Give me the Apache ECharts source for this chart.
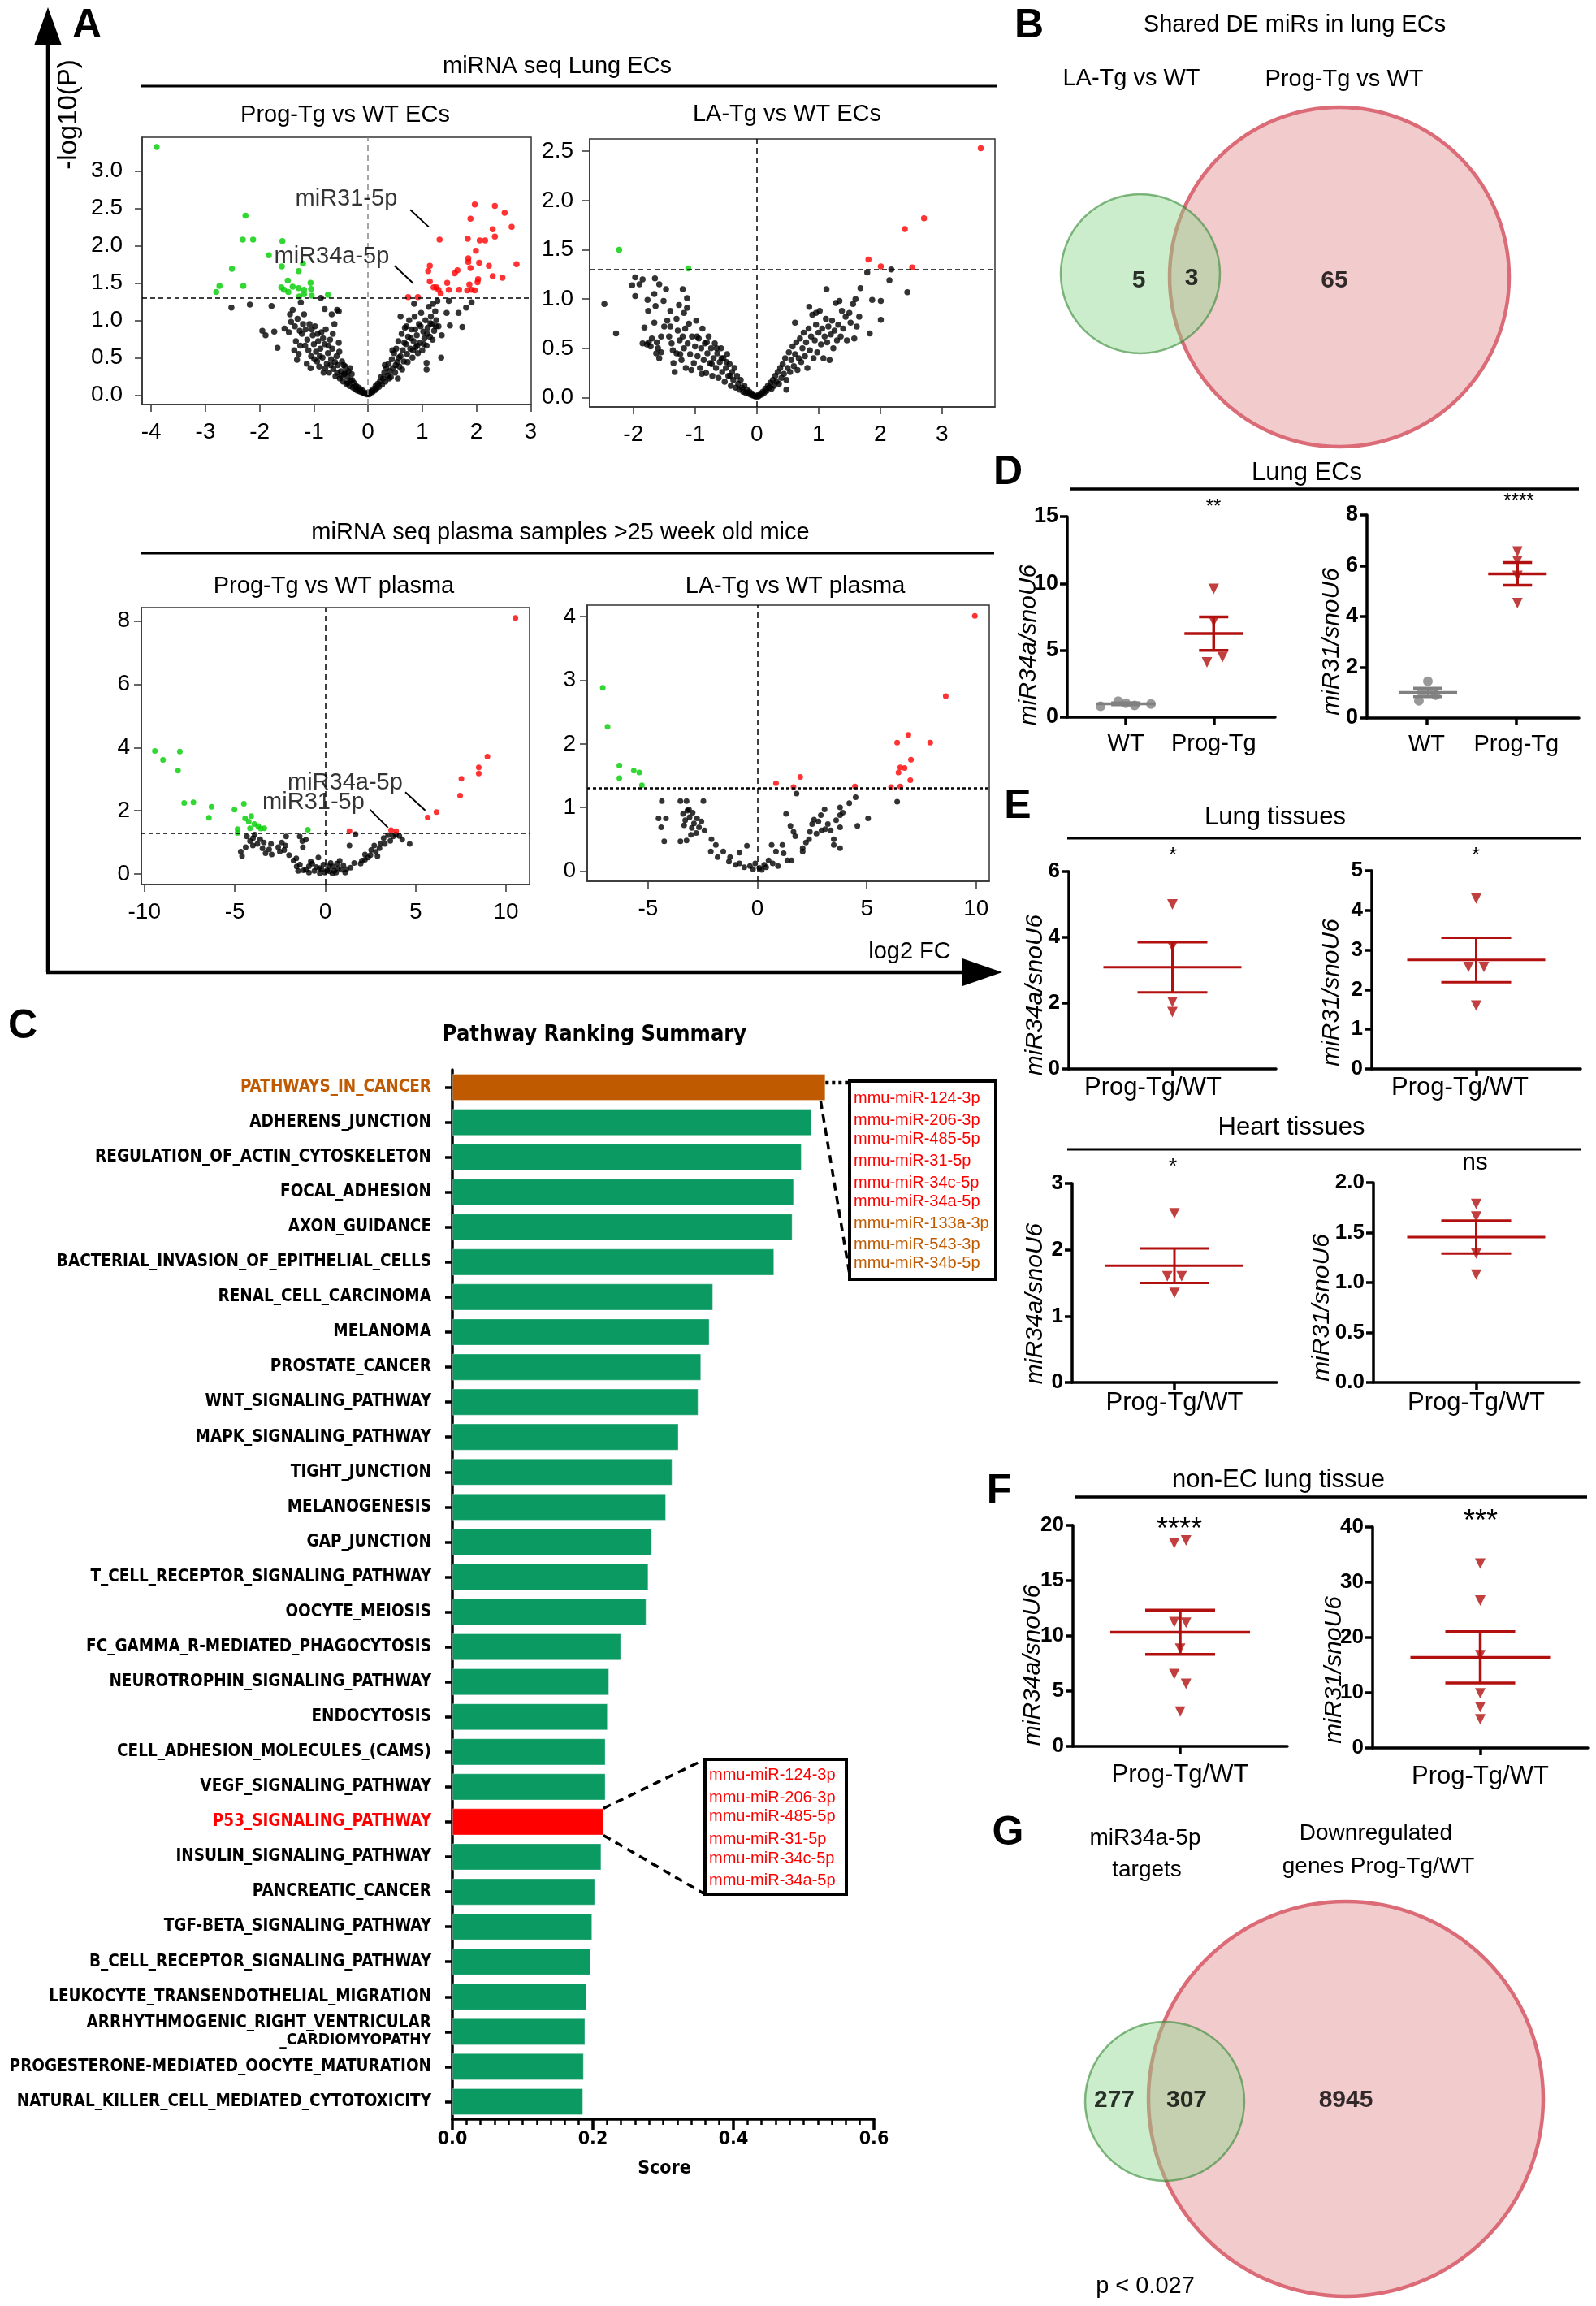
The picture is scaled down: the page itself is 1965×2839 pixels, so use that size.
<!DOCTYPE html>
<html><head><meta charset="utf-8">
<script src="https://cdn.jsdelivr.net/npm/echarts@6/dist/echarts.min.js"></script>
<style>html,body{margin:0;padding:0;background:#fff}#c{width:1965px;height:2839px}</style>
</head><body><div id="c"></div>
<script>
// ================= DATA =================
const pThreshold = 1.3;
// A1: Prog-Tg vs WT ECs  [log2FC, -log10P]
const ecProgGreen = [[-3.90,3.32],[-2.26,2.40],[-2.31,2.08],[-2.12,2.08],[-1.58,2.06],[-1.83,1.87],[-2.51,1.69],[-1.59,1.72],[-1.20,1.76],[-1.28,1.66],[-1.48,1.53],[-2.74,1.46],[-2.30,1.46],[-2.80,1.38],[-1.60,1.44],[-1.55,1.41],[-1.47,1.38],[-1.39,1.45],[-1.28,1.43],[-1.18,1.41],[-1.06,1.50],[-1.05,1.42],[-1.18,1.35],[-1.27,1.32],[-1.04,1.33],[-0.74,1.34]];
const ecProgRed = [[1.97,2.55],[2.34,2.53],[2.52,2.44],[1.89,2.36],[2.65,2.25],[2.30,2.22],[2.34,2.12],[1.32,2.08],[1.84,2.09],[2.06,2.07],[2.16,2.07],[1.99,1.93],[1.85,1.83],[1.85,1.78],[2.05,1.77],[2.74,1.75],[2.23,1.73],[1.14,1.73],[1.89,1.70],[1.11,1.66],[1.65,1.67],[1.60,1.63],[2.30,1.59],[2.48,1.57],[2.03,1.55],[1.14,1.52],[1.46,1.50],[2.02,1.51],[1.87,1.48],[1.21,1.44],[1.26,1.44],[1.30,1.41],[1.49,1.41],[1.68,1.41],[1.91,1.41],[1.83,1.40],[1.97,1.40],[1.34,1.36],[0.74,1.31],[0.92,1.31]];
const ecProgBlack = [[-2.52,1.17],[-2.18,1.21],[-1.78,1.19],[-1.95,0.86],[-1.89,0.80],[-1.73,0.85],[-1.67,0.63],[-1.54,0.89],[-1.46,0.84],[-1.44,1.08],[-1.39,1.14],[-1.24,1.24],[-0.87,1.30],[-0.80,1.15],[-0.67,1.08],[-0.57,1.14],[-0.54,1.12],
[-1.42,0.98],[-1.35,0.92],[-1.30,1.02],[-1.33,0.72],[-1.28,0.55],[-1.25,0.66],[-1.22,0.82],[-1.20,0.95],[-1.36,0.60],[-1.31,0.47],
[-1.18,1.08],[-1.15,0.88],[-1.12,0.74],[-1.10,0.60],[-1.08,0.95],[-1.05,0.52],[-1.02,0.80],[-1.00,0.68],[-1.13,0.42],[-1.06,0.36],
[-0.98,0.92],[-0.96,0.58],[-0.94,0.45],[-0.92,0.72],[-0.90,0.38],[-0.88,0.62],[-0.86,0.84],[-0.84,0.50],[-0.82,0.30],[-0.80,0.68],
[-0.78,0.88],[-0.76,0.42],[-0.74,0.56],[-0.72,0.30],[-0.70,0.74],[-0.68,0.48],[-0.66,0.62],[-0.64,0.35],[-0.62,0.95],[-0.60,0.25],
[-0.58,0.52],[-0.56,0.40],[-0.54,0.70],[-0.52,0.22],[-0.50,0.32],[-0.48,0.45],[-0.46,0.18],[-0.44,0.28],[-0.42,0.38],[-0.40,0.15],
[-0.38,0.24],[-0.36,0.32],[-0.34,0.12],[-0.32,0.20],[-0.30,0.28],[-0.28,0.10],[-0.26,0.16],[-0.24,0.08],[-0.22,0.12],[-0.20,0.06],
[-0.18,0.10],[-0.16,0.05],[-0.14,0.08],[-0.12,0.04],[-0.10,0.06],[-0.08,0.03],[-0.06,0.02],[-0.04,0.03],[-0.02,0.01],
[-1.26,0.86],[-1.16,0.66],[-1.04,0.88],[-0.99,0.48],[-0.93,0.82],[-0.89,0.52],[-0.83,0.76],[-0.79,0.36],[-0.73,0.66],[-0.69,0.40],[-0.65,0.82],[-0.61,0.44],[-0.57,0.30],[-0.53,0.58],[-0.49,0.26],[-0.45,0.40],[-0.41,0.30],[-0.37,0.16],[-0.33,0.36],[-0.29,0.20],
[0.02,0.01],[0.04,0.03],[0.06,0.05],[0.08,0.04],[0.10,0.08],[0.12,0.06],[0.14,0.12],[0.16,0.09],[0.18,0.15],[0.20,0.11],
[0.22,0.18],[0.24,0.24],[0.26,0.14],[0.28,0.22],[0.30,0.30],[0.32,0.18],[0.34,0.36],[0.36,0.26],[0.38,0.42],[0.40,0.32],
[0.42,0.24],[0.44,0.48],[0.46,0.36],[0.48,0.56],[0.50,0.30],[0.52,0.62],[0.54,0.44],[0.56,0.72],[0.58,0.38],[0.60,0.52],
[0.62,0.82],[0.64,0.60],[0.66,0.45],[0.68,0.90],[0.70,0.68],[0.72,0.55],[0.74,0.78],[0.76,1.00],[0.78,0.62],[0.80,0.88],
[0.82,0.50],[0.84,0.72],[0.86,1.05],[0.88,0.64],[0.90,0.80],[0.92,0.56],[0.94,0.95],[0.96,0.70],[0.98,1.10],[1.00,0.60],
[1.02,0.85],[1.04,0.76],[1.06,1.00],[1.08,0.66],[1.10,0.90],[1.12,1.18],[1.14,0.78],[1.16,1.05],[1.18,0.95],[1.20,1.22],
[1.22,0.86],[1.24,1.12],[1.26,1.00],[1.28,1.26],[1.30,0.92],
[0.31,0.40],[0.39,0.22],[0.45,0.60],[0.51,0.40],[0.57,0.50],[0.63,0.34],[0.67,0.70],[0.73,0.44],[0.79,0.76],[0.83,0.60],[0.87,0.88],[0.91,0.66],[0.97,0.92],[1.03,0.68],[1.09,0.82],[1.15,0.96],[1.19,0.74],[1.25,0.92],[0.55,0.22],[0.71,0.92],
[1.35,0.50],[1.08,0.43],[1.08,0.34],[1.51,0.93],[1.45,1.10],[1.74,0.91],[1.67,1.10],[1.81,1.17],[1.91,1.24],[1.49,1.26],[1.36,0.80],[0.85,1.22],[0.60,1.05]];
// A2: LA-Tg vs WT ECs
const ecLaGreen = [[-2.23,1.50],[-1.11,1.31]];
const ecLaRed = [[3.63,2.53],[2.71,1.82],[2.40,1.71],[1.81,1.40],[2.01,1.33],[2.52,1.32]];
const ecLaBlack = [[-2.47,0.95],[-2.28,0.65],[-1.97,1.22],[-2.02,1.14],[-1.97,1.03],[-1.85,1.20],[-1.90,1.15],[-1.65,1.21],[-1.58,1.15],[-1.47,1.10],[-1.66,1.05],[-1.77,0.99],[-1.76,0.88],[-1.82,0.71],[-1.78,0.54],[-1.72,0.52],[-1.60,0.50],[-1.63,0.45],[-1.51,0.98],[-1.64,0.93],[-1.20,1.10],[-1.13,1.01],[-1.26,0.94],[-1.13,0.91],
[-1.45,0.78],[-1.42,0.62],[-1.40,0.72],[-1.38,0.55],[-1.35,0.35],[-1.33,0.26],[-1.30,0.45],[-1.28,0.68],[-1.25,0.58],[-1.22,0.38],
[-1.20,0.62],[-1.18,0.50],[-1.15,0.30],[-1.12,0.55],[-1.10,0.75],[-1.08,0.44],[-1.05,0.62],[-1.02,0.35],[-1.00,0.52],[-0.98,0.78],
[-0.96,0.42],[-0.94,0.60],[-0.92,0.30],[-0.90,0.50],[-0.88,0.70],[-0.86,0.38],[-0.84,0.55],[-0.82,0.25],[-0.80,0.45],[-0.78,0.62],
[-0.76,0.35],[-0.74,0.50],[-0.72,0.22],[-0.70,0.40],[-0.68,0.55],[-0.66,0.30],[-0.64,0.45],[-0.62,0.20],[-0.60,0.36],[-0.58,0.50],
[-0.56,0.26],[-0.54,0.40],[-0.52,0.16],[-0.50,0.30],[-0.48,0.44],[-0.46,0.22],[-0.44,0.34],[-0.42,0.12],[-0.40,0.26],[-0.38,0.18],
[-0.36,0.30],[-0.34,0.10],[-0.32,0.22],[-0.30,0.14],[-0.28,0.08],[-0.26,0.18],[-0.24,0.10],[-0.22,0.06],[-0.20,0.12],[-0.18,0.05],
[-0.16,0.08],[-0.14,0.04],[-0.12,0.06],[-0.10,0.03],[-0.08,0.04],[-0.06,0.02],[-0.04,0.02],[-0.02,0.01],
[-1.55,0.46],[-1.62,0.56],[-1.58,0.40],[-1.70,0.60],[-1.50,0.72],[-1.66,0.76],[-1.40,0.88],[-1.30,0.80],[-1.18,0.86],[-1.55,0.62],[-1.75,0.56],[-1.85,0.55],
[-1.36,0.48],[-1.24,0.44],[-1.16,0.70],[-1.06,0.28],[-0.97,0.62],[-0.89,0.24],[-0.81,0.56],[-0.73,0.34],[-0.65,0.50],[-0.57,0.40],[-0.49,0.36],[-0.43,0.22],
[1.79,1.27],[2.18,1.30],[2.15,1.19],[2.44,1.07],[1.68,1.11],[1.87,0.99],[2.01,0.98],[2.01,0.79],[1.83,0.65],[1.13,1.10],
[0.02,0.01],[0.04,0.02],[0.06,0.04],[0.08,0.03],[0.10,0.06],[0.12,0.05],[0.14,0.09],[0.16,0.07],[0.18,0.12],[0.20,0.10],
[0.22,0.15],[0.24,0.09],[0.26,0.18],[0.28,0.12],[0.30,0.22],[0.32,0.16],[0.34,0.26],[0.36,0.14],[0.38,0.30],[0.40,0.20],
[0.42,0.34],[0.44,0.24],[0.46,0.40],[0.48,0.18],[0.50,0.30],[0.52,0.46],[0.54,0.26],[0.56,0.38],[0.58,0.52],[0.60,0.32],
[0.62,0.44],[0.64,0.56],[0.66,0.28],[0.68,0.40],[0.70,0.60],[0.72,0.36],[0.74,0.50],[0.76,0.66],[0.78,0.42],[0.80,0.56],
[0.82,0.30],[0.84,0.70],[0.86,0.48],[0.88,0.62],[0.90,0.84],[0.92,0.40],[0.94,0.58],[0.96,0.74],[0.98,0.46],[1.00,0.66],
[1.02,0.88],[1.04,0.54],[1.06,0.70],[1.08,0.40],[1.10,0.62],[1.12,0.80],[1.14,0.56],[1.16,0.72],[1.18,0.38],[1.20,0.64],
[1.22,0.78],[1.24,0.50],[1.26,0.68],[1.28,0.96],[1.30,0.58],[1.32,0.74],[1.34,0.98],[1.36,0.62],[1.38,0.88],[1.40,0.70],
[1.44,0.82],[1.46,0.58],[1.50,0.86],[1.52,0.76],[1.56,0.95],[1.58,0.60],[1.60,1.00],[1.62,0.72],[1.66,0.82],[0.62,0.76],[0.85,0.92],[0.96,0.86],[0.48,0.08]];
// A3: Prog-Tg vs WT plasma
const plProgGreen = [[-9.42,3.89],[-8.04,3.87],[-8.97,3.61],[-8.14,3.27],[-7.80,2.25],[-7.29,2.27],[-6.29,2.13],[-6.43,1.78],[-5.02,2.04],[-4.50,2.22],[-4.43,1.76],[-4.09,1.83],[-4.23,1.66],[-3.92,1.58],[-3.71,1.52],[-3.37,1.45],[-3.57,1.44],[-4.16,1.45],[-4.85,1.42],[-4.85,1.30],[-0.96,1.40]];
const plProgRed = [[10.52,8.09],[8.97,3.71],[8.49,3.37],[8.49,3.18],[7.53,3.01],[7.46,2.48],[6.15,1.96],[5.67,1.79],[3.64,1.39],[3.92,1.36],[1.34,1.36]];
const plProgBlack = [[-4.67,0.71],[-4.60,0.57],[-4.33,1.19],[-4.16,1.04],[-3.99,1.14],[-3.75,0.95],[-3.47,0.81],[-3.30,0.66],[-2.96,0.62],[-2.51,0.71],[-2.27,0.76],[-2.16,1.19],[-1.41,1.19],[-1.27,1.04],[-1.07,1.09],[-1.24,0.85],[-1.75,0.43],[-1.58,0.24],[-1.07,0.14],[-0.72,0.33],[-0.38,0.52],[-0.31,0.19],[-0.03,0.05],[0.24,0.09],[0.41,0.24],[0.65,0.33],[0.89,0.14],[1.17,0.16],[1.34,0.90],[1.68,1.26],[2.03,0.43],[2.20,0.62],[2.54,0.76],[2.71,0.90],[3.06,0.95],[3.23,1.14],[3.47,1.23],[3.75,1.19],[4.26,1.09],[4.67,0.95],[2.89,0.57],[2.37,0.52],[1.96,0.33],
[-1.2,0.12],[-0.9,0.25],[-0.6,0.10],[-0.5,0.22],[-0.2,0.15],[-0.1,0.30],[0.1,0.12],[0.3,0.35],[0.5,0.10],[0.7,0.18],[0.8,0.42],[1.0,0.28],[1.4,0.2],[-1.4,0.3],[-0.8,0.4],[0.2,0.25],[0.6,0.05],[-0.3,0.02],[1.1,0.05],[-1.6,0.5],[-2.0,0.6],[-2.6,0.85],[-3.0,0.95],[-3.6,1.1],[-4.0,0.9],[-4.4,0.85],[-3.9,1.25],[-3.4,1.0],[-3.1,0.78],[2.2,0.45],[2.5,0.6],[3.3,0.95],[3.6,1.05],[3.9,1.25],[4.1,1.2],[2.8,0.7],[3.0,0.82],[-0.9,0.05],[0.4,0.02],[-1.5,0.1],[1.6,0.35],[-2.2,0.9],[-2.4,1.0]];
// A4: LA-Tg vs WT plasma
const plLaGreen = [[-7.07,2.88],[-6.85,2.27],[-6.31,1.66],[-6.31,1.46],[-5.65,1.58],[-5.40,1.55],[-5.28,1.35]];
const plLaRed = [[9.94,4.01],[8.61,2.75],[6.90,2.14],[6.39,2.02],[7.90,2.02],[7.02,1.75],[6.53,1.63],[6.73,1.62],[6.45,1.55],[6.99,1.43],[1.96,1.48],[0.85,1.38],[1.65,1.32],[4.46,1.33],[6.11,1.32],[6.53,1.33]];
const plLaBlack = [[6.39,1.09],[1.79,1.22],[-4.37,1.10],[-4.52,0.83],[-4.18,0.83],[-4.40,0.69],[-4.26,0.47],[-3.52,1.10],[-3.24,1.10],[-2.47,1.10],[-3.13,0.97],[-2.96,0.92],[-2.76,0.83],[-2.67,0.69],[-2.56,0.78],[-2.42,0.64],[-2.10,0.50],[-3.52,0.47],[-3.24,0.48],[-3.04,0.57],[-1.90,0.41],[-1.56,0.31],[-2.13,0.31],[-1.82,0.22],[-1.25,0.22],[-0.82,0.29],[-0.48,0.40],[-0.82,0.12],[-0.34,0.08],[-0.20,0.03],[0.09,0.05],[0.31,0.10],[0.51,0.17],[0.65,0.41],[0.85,0.31],[1.14,0.41],[1.31,0.90],[1.51,0.71],[1.65,0.62],[1.73,0.55],[0.94,0.08],[1.56,0.17],[2.07,0.31],[2.22,0.45],[2.50,0.74],[2.59,0.81],[2.70,0.59],[2.93,0.64],[3.07,0.97],[2.79,0.78],[3.22,0.74],[3.35,0.64],[3.49,0.50],[3.78,1.00],[3.78,0.88],[3.78,0.69],[3.78,0.36],[4.20,1.07],[4.49,1.16],[4.57,0.71],[5.06,0.83],[3.49,0.41],[2.36,0.50],[2.07,0.36],[1.37,0.17],
[-3.40,0.90],[-3.30,0.80],[-3.10,0.85],[-2.90,0.75],[-3.00,0.68],[-2.80,0.60],[-3.35,0.72],[-3.20,0.95],[-1.30,0.15],[-1.00,0.10],[-0.60,0.06],[-0.10,0.12],[0.20,0.02],[0.40,0.06],[0.70,0.12],[1.20,0.28],[2.90,0.88],[3.10,0.66],[3.60,0.80],[2.40,0.62],[3.90,0.92]];

// C: pathway ranking
const pathways = ['PATHWAYS_IN_CANCER','ADHERENS_JUNCTION','REGULATION_OF_ACTIN_CYTOSKELETON','FOCAL_ADHESION','AXON_GUIDANCE','BACTERIAL_INVASION_OF_EPITHELIAL_CELLS','RENAL_CELL_CARCINOMA','MELANOMA','PROSTATE_CANCER','WNT_SIGNALING_PATHWAY','MAPK_SIGNALING_PATHWAY','TIGHT_JUNCTION','MELANOGENESIS','GAP_JUNCTION','T_CELL_RECEPTOR_SIGNALING_PATHWAY','OOCYTE_MEIOSIS','FC_GAMMA_R-MEDIATED_PHAGOCYTOSIS','NEUROTROPHIN_SIGNALING_PATHWAY','ENDOCYTOSIS','CELL_ADHESION_MOLECULES_(CAMS)','VEGF_SIGNALING_PATHWAY','P53_SIGNALING_PATHWAY','INSULIN_SIGNALING_PATHWAY','PANCREATIC_CANCER','TGF-BETA_SIGNALING_PATHWAY','B_CELL_RECEPTOR_SIGNALING_PATHWAY','LEUKOCYTE_TRANSENDOTHELIAL_MIGRATION','ARRHYTHMOGENIC_RIGHT_VENTRICULAR\n_CARDIOMYOPATHY','PROGESTERONE-MEDIATED_OOCYTE_MATURATION','NATURAL_KILLER_CELL_MEDIATED_CYTOTOXICITY'];
const pathwayScores = [0.531,0.511,0.497,0.486,0.484,0.458,0.371,0.366,0.354,0.350,0.322,0.313,0.304,0.284,0.279,0.276,0.240,0.223,0.221,0.218,0.218,0.215,0.212,0.203,0.199,0.197,0.191,0.189,0.187,0.186];
const highlightCancer = 'PATHWAYS_IN_CANCER';
const highlightP53 = 'P53_SIGNALING_PATHWAY';
const cancerMirsRed = ['mmu-miR-124-3p','mmu-miR-206-3p','mmu-miR-485-5p','mmu-miR-31-5p','mmu-miR-34c-5p','mmu-miR-34a-5p'];
const cancerMirsOrange = ['mmu-miR-133a-3p','mmu-miR-543-3p','mmu-miR-34b-5p'];
const p53Mirs = ['mmu-miR-124-3p','mmu-miR-206-3p','mmu-miR-485-5p','mmu-miR-31-5p','mmu-miR-34c-5p','mmu-miR-34a-5p'];

// B & G venn counts
const vennBSets = ['LA-Tg vs WT','Prog-Tg vs WT'];
const vennBCounts = [5, 3, 65];
const vennGSets = ['miR34a-5p\ntargets','Downregulated\ngenes Prog-Tg/WT'];
const vennGCounts = [277, 307, 8945];
const vennGPvalue = 'p < 0.027';

// D: Lung ECs  [x position, value]
const dCats = ['WT','Prog-Tg'];
const dCatPos = [1, 2.5];
const dMiR34aWT = [[0.57,0.82],[0.87,1.20],[1.00,1.05],[1.15,0.88],[1.43,0.98]];
const dMiR34aProg = [[2.5,9.6],[2.5,7.16],[2.385,4.1],[2.65,4.5]];
const dMiR34aStats = [[1,1.0,0.08],[2.5,6.25,1.25]]; // x, mean, SEM
const dMiR31WT = [[1.02,1.45],[0.87,0.68],[1.15,0.90],[0.92,1.00],[1.12,1.02]];
const dMiR31Prog = [[2.52,6.56],[2.52,6.19],[2.52,5.6],[2.52,4.53]];
const dMiR31Stats = [[1.02,1.01,0.17],[2.52,5.68,0.45]];
// E/F: single group Prog-Tg/WT
const ratioCat = ['Prog-Tg/WT'];
const ratioPos = [1];
const eLungMiR34a = [[1,5.0],[1,3.72],[1,2.04],[1,1.73]];
const eLungMiR34aStats = [[1,3.09,0.76]];
const eLungMiR31 = [[1,4.3],[0.926,2.57],[1.074,2.57],[1,1.6]];
const eLungMiR31Stats = [[1,2.75,0.56]];
const eHeartMiR34a = [[1,2.55],[0.93,1.6],[1.07,1.6],[1,1.35]];
const eHeartMiR34aStats = [[1,1.76,0.26]];
const eHeartMiR31 = [[1,1.787],[1,1.66],[1,1.29],[1,1.08]];
const eHeartMiR31Stats = [[1,1.455,0.165]];
const fMiR34a = [[0.945,18.39],[1.055,18.64],[0.945,11.25],[1.055,11.2],[1,8.85],[0.945,6.54],[1.055,5.67],[1,3.15]];
const fMiR34aStats = [[1,10.33,2.01]];
const fMiR31 = [[1,33.4],[1,26.7],[1,16.8],[1,9.9],[1,7.4],[1,5.2]];
const fMiR31Stats = [[1,16.4,4.65]];
const sig = ['**','****','*','*','*','ns','****','***'];

// ================= STYLE / LAYOUT =================
const FONT = '"Liberation Sans", Arial, Helvetica, sans-serif';
const NARROW = '"Liberation Sans Narrow", "Arial Narrow", "DejaVu Sans Condensed", "Liberation Sans", sans-serif';
const GREEN = '#0A9A62', ORANGE = '#C05A00', RED = '#FF0000', DARKRED = '#B2100F', GRAY = '#808080';

const grids = [], xAxes = [], yAxes = [], series = [];

function addVolcano(c) {
  const gi = grids.length;
  grids.push({left:c.box[0], top:c.box[1], width:c.box[2], height:c.box[3], show:true, borderColor:'#333', borderWidth:1.5, containLabel:false, outerBoundsMode:'none'});
  xAxes.push({type:'value', gridIndex:gi, min:c.xr[0], max:c.xr[1],
    axisLine:{show:true, onZero:false, lineStyle:{color:'#333', width:1.5}},
    axisTick:{show:true, length:9, customValues:c.xt, lineStyle:{color:'#333', width:1.5}},
    axisLabel:{show:true, customValues:c.xt, margin:c.xm, fontSize:c.fs, fontFamily:FONT, color:'#000', formatter:v=>String(v)},
    splitLine:{show:false}});
  yAxes.push({type:'value', gridIndex:gi, min:c.yr[0], max:c.yr[1],
    axisLine:{show:true, onZero:false, lineStyle:{color:'#333', width:1.5}},
    axisTick:{show:true, length:9, customValues:c.yt, lineStyle:{color:'#333', width:1.5}},
    axisLabel:{show:true, customValues:c.yt, margin:c.ym, fontSize:c.fs, fontFamily:FONT, color:'#000', formatter:c.yf},
    splitLine:{show:false}});
  series.push({type:'scatter', xAxisIndex:gi, yAxisIndex:gi, data:c.black, symbolSize:c.ss, itemStyle:{color:'#000'}, silent:true, z:2,
    markLine:{silent:true, symbol:'none', label:{show:false}, animation:false,
      data:[{yAxis:pThreshold, lineStyle:{type:c.hd, color:'#000', width:c.hw}},
            {xAxis:0, lineStyle:{type:[7,5], color:c.vc, width:1.5}}]}});
  series.push({type:'scatter', xAxisIndex:gi, yAxisIndex:gi, data:c.green, symbolSize:c.ss, itemStyle:{color:'#00CD00'}, silent:true, z:3});
  series.push({type:'scatter', xAxisIndex:gi, yAxisIndex:gi, data:c.red, symbolSize:c.ss, itemStyle:{color:'#FF0000'}, silent:true, z:3});
  (c.ann||[]).forEach(a => {
    series.push({type:'scatter', xAxisIndex:gi, yAxisIndex:gi, data:[a.pos], symbolSize:0, silent:true, clip:false, z:6,
      label:{show:true, position:'inside', formatter:a.text, fontSize:29, fontFamily:FONT, color:'#000'},
      markLine:{silent:true, symbol:['none','arrow'], symbolSize:[0,11], label:{show:false}, animation:false,
        lineStyle:{type:'solid', color:'#000', width:2},
        data:[[{coord:a.from},{coord:a.to}]]}});
  });
  return gi;
}

function addDot(c) {
  const gi = grids.length;
  grids.push({left:c.box[0], top:c.box[1], width:c.box[2], height:c.box[3], show:false, containLabel:false, outerBoundsMode:'none'});
  xAxes.push({type:'value', gridIndex:gi, min:0, max:c.xmax,
    axisLine:{show:true, onZero:false, lineStyle:{color:'#000', width:3.5}},
    axisTick:{show:true, length:9, customValues:c.xt, lineStyle:{color:'#000', width:3.5}},
    axisLabel:{show:true, customValues:c.xt, margin:c.xm, padding:c.pad||0, fontSize:c.xfs, fontFamily:FONT, color:'#000', formatter:v=>c.cats[c.xt.indexOf(v)]},
    splitLine:{show:false}});
  yAxes.push({type:'value', gridIndex:gi, min:0, max:c.ymax, interval:c.yint,
    axisLine:{show:true, onZero:false, lineStyle:{color:'#000', width:3.5}},
    axisTick:{show:true, length:9, lineStyle:{color:'#000', width:3.5}},
    axisLabel:{show:true, margin:11, fontSize:c.yfs||26, fontWeight:'bold', fontFamily:FONT, color:'#000', formatter:c.yf||(v=>String(v))},
    splitLine:{show:false}});
  c.groups.forEach(g => {
    series.push({type:'scatter', xAxisIndex:gi, yAxisIndex:gi, data:g.data, symbol:g.symbol, symbolRotate:g.rot||0, symbolSize:g.size, itemStyle:{color:g.color}, silent:true, z:3, clip:false});
  });
  c.stats.forEach(s => {
    series.push({type:'custom', xAxisIndex:gi, yAxisIndex:gi, data:s.data, silent:true, z:5, clip:false,
      renderItem:(params, api) => {
        const x = api.value(0), m = api.value(1), e = api.value(2);
        const pm = api.coord([x,m]), pt = api.coord([x,m+e]), pb = api.coord([x,m-e]);
        const st = {stroke:s.color, lineWidth:c.lw};
        return {type:'group', children:[
          {type:'line', shape:{x1:pm[0]-c.hm, y1:pm[1], x2:pm[0]+c.hm, y2:pm[1]}, style:st},
          {type:'line', shape:{x1:pt[0], y1:pt[1], x2:pb[0], y2:pb[1]}, style:st},
          {type:'line', shape:{x1:pt[0]-c.hc, y1:pt[1], x2:pt[0]+c.hc, y2:pt[1]}, style:st},
          {type:'line', shape:{x1:pb[0]-c.hc, y1:pb[1], x2:pb[0]+c.hc, y2:pb[1]}, style:st}]};
      }});
  });
  return gi;
}

// ---- Panel A volcanoes ----
const f1 = v => v.toFixed(1);
addVolcano({box:[175,169,479,329], xr:[-4.167,3.01], yr:[-0.127,3.45], xt:[-4,-3,-2,-1,0,1,2,3], yt:[0,0.5,1,1.5,2,2.5,3], yf:f1, xm:20, ym:24, fs:28,
  black:ecProgBlack, green:ecProgGreen, red:ecProgRed, ss:7.5, vc:'#888', hd:[6,4], hw:1.5,
  ann:[{text:'miR31-5p', pos:[-0.40,2.62], from:[0.78,2.48], to:[1.12,2.25]},
       {text:'miR34a-5p', pos:[-0.67,1.85], from:[0.49,1.73], to:[0.84,1.49]}]});
addVolcano({box:[726,171,499,330], xr:[-2.708,3.86], yr:[-0.095,2.625], xt:[-2,-1,0,1,2,3], yt:[0,0.5,1,1.5,2,2.5], yf:f1, xm:20, ym:20, fs:28,
  black:ecLaBlack, green:ecLaGreen, red:ecLaRed, ss:7.5, vc:'#000', hd:[6,4], hw:1.5});
addVolcano({box:[174,748,478,341], xr:[-10.17,11.3], yr:[-0.33,8.42], xt:[-10,-5,0,5,10], yt:[0,2,4,6,8], yf:v=>String(v), xm:20, ym:14, fs:28,
  black:plProgBlack, green:plProgGreen, red:plProgRed, ss:7, vc:'#000', hd:[5,4], hw:1.5,
  ann:[{text:'miR34a-5p', pos:[1.1,2.89], from:[4.43,2.59], to:[5.53,2.01]},
       {text:'miR31-5p', pos:[-0.65,2.25], from:[2.47,2.04], to:[3.47,1.47]}]});
addVolcano({box:[723,745,495,340], xr:[-7.78,10.6], yr:[-0.16,4.18], xt:[-5,0,5,10], yt:[0,1,2,3,4], yf:v=>String(v), xm:20, ym:14, fs:28,
  black:plLaBlack, green:plLaGreen, red:plLaRed, ss:7, vc:'#000', hd:[4,3], hw:2.5});

// ---- Panel C bar chart ----
const barGi = grids.length;
grids.push({left:557, top:1317, width:519, height:1292, show:false, containLabel:false, outerBoundsMode:'none'});
const richBase = {fontFamily:NARROW, fontWeight:'bold', fontSize:20.5, align:'right', lineHeight:22};
xAxes.push({type:'value', gridIndex:barGi, min:0, max:0.6, interval:0.2,
  axisLine:{show:true, onZero:false, lineStyle:{color:'#000', width:3.5}},
  axisTick:{show:true, length:13, lineStyle:{color:'#000', width:3.5}},
  minorTick:{show:true, splitNumber:10, length:7, lineStyle:{color:'#000', width:2.5}},
  axisLabel:{margin:14, formatter:v=>v.toFixed(1), fontFamily:NARROW, fontWeight:'bold', fontSize:23, color:'#000'},
  splitLine:{show:false}, minorSplitLine:{show:false}});
yAxes.push({type:'category', gridIndex:barGi, data:pathways, inverse:true,
  axisLine:{show:true, onZero:false, lineStyle:{color:'#000', width:3.5}},
  axisTick:{show:true, alignWithLabel:true, length:9, lineStyle:{color:'#000', width:3.5}},
  axisLabel:{interval:0, margin:26, formatter:v => {
      if (v === highlightCancer) return '{o|'+v+'}';
      if (v === highlightP53) return '{r|'+v+'}';
      const L = v.split('\n');
      if (L.length > 1) return '{b|'+L[0]+'}\n{s|'+L[1]+'}';
      return '{b|'+v+'}';
    },
    rich:{b:Object.assign({}, richBase, {color:'#000'}), s:Object.assign({}, richBase, {color:'#000', fontSize:19}),
          o:Object.assign({}, richBase, {color:ORANGE}), r:Object.assign({}, richBase, {color:RED})}}});
series.push({type:'bar', xAxisIndex:barGi, yAxisIndex:barGi, barCategoryGap:'23%', silent:true,
  data:pathwayScores.map((v,i) => ({value:v, itemStyle:{color: pathways[i]===highlightCancer ? ORANGE : (pathways[i]===highlightP53 ? RED : GREEN), borderColor:'rgba(255,255,255,0.35)', borderWidth:1}}))});

// ---- Panels D, E, F ----
const tri = (data) => ({data, symbol:'triangle', rot:180, size:13, color:DARKRED});
addDot({box:[1314,636,256,247], xmax:3.55, xt:dCatPos, cats:dCats, xm:18, xfs:29, ymax:15, yint:5, yfs:27, hm:36, hc:18, lw:3.5,
  groups:[{data:dMiR34aWT, symbol:'circle', size:12, color:GRAY}, tri(dMiR34aProg)],
  stats:[{data:[dMiR34aStats[0]], color:GRAY}, {data:[dMiR34aStats[1]], color:DARKRED}]});
addDot({box:[1683,634,261,250], xmax:3.55, xt:dCatPos, cats:dCats, xm:18, xfs:29, ymax:8, yint:2, yfs:27, hm:36, hc:18, lw:3.5,
  groups:[{data:dMiR31WT, symbol:'circle', size:12, color:GRAY}, tri(dMiR31Prog)],
  stats:[{data:[dMiR31Stats[0]], color:GRAY}, {data:[dMiR31Stats[1]], color:DARKRED}]});
addDot({box:[1316,1073,255,243], xmax:2, xt:ratioPos, cats:ratioCat, xm:8, pad:[0,48,0,0], xfs:31, ymax:6, yint:2, hm:85, hc:43, lw:3,
  groups:[tri(eLungMiR34a)], stats:[{data:eLungMiR34aStats, color:DARKRED}]});
addDot({box:[1689,1072,257,244], xmax:2, xt:ratioPos, cats:ratioCat, xm:8, pad:[0,40,0,0], xfs:31, ymax:5, yint:1, hm:85, hc:43, lw:3,
  groups:[tri(eLungMiR31)], stats:[{data:eLungMiR31Stats, color:DARKRED}]});
addDot({box:[1320,1457,252,245], xmax:2, xt:ratioPos, cats:ratioCat, xm:10, xfs:31, ymax:3, yint:1, hm:85, hc:43, lw:3,
  groups:[tri(eHeartMiR34a)], stats:[{data:eHeartMiR34aStats, color:DARKRED}]});
addDot({box:[1691,1456,253,246], xmax:2, xt:ratioPos, cats:ratioCat, xm:10, xfs:31, ymax:2, yint:0.5, yf:f1, hm:85, hc:43, lw:3,
  groups:[tri(eHeartMiR31)], stats:[{data:eHeartMiR31Stats, color:DARKRED}]});
addDot({box:[1321,1878,264,272], xmax:2, xt:ratioPos, cats:ratioCat, xm:20, xfs:31, ymax:20, yint:5, hm:86, hc:43, lw:3.5,
  groups:[tri(fMiR34a)], stats:[{data:fMiR34aStats, color:DARKRED}]});
addDot({box:[1690,1880,265,272], xmax:2, xt:ratioPos, cats:ratioCat, xm:20, xfs:31, ymax:40, yint:10, hm:86, hc:43, lw:3.5,
  groups:[tri(fMiR31)], stats:[{data:fMiR31Stats, color:DARKRED}]});

// ---- Venn (B, G) on a page-pixel coordinate grid ----
const vGi = grids.length;
grids.push({left:0, top:0, width:1965, height:2839, show:false, containLabel:false, outerBoundsMode:'none'});
xAxes.push({type:'value', gridIndex:vGi, min:0, max:1965, show:false});
yAxes.push({type:'value', gridIndex:vGi, min:0, max:2839, inverse:true, show:false});
const vennLayout = {
  B:{small:[1404,337,98], big:[1649,341,209], lab:[[1402,346],[1467,343],[1643,346]]},
  G:{small:[1434,2587,98], big:[1657,2584,243], lab:[[1372,2586],[1461,2586],[1657,2586]]}
};
['B','G'].forEach(k => {
  const L = vennLayout[k], counts = k==='B' ? vennBCounts : vennGCounts;
  series.push({type:'scatter', xAxisIndex:vGi, yAxisIndex:vGi, silent:true, z:1, data:[[L.big[0],L.big[1]]], symbolSize:2*L.big[2],
    itemStyle:{color:'#F2CBCD', borderColor:'#DB6C77', borderWidth:4.5, opacity:1}});
  series.push({type:'scatter', xAxisIndex:vGi, yAxisIndex:vGi, silent:true, z:2, data:[[L.small[0],L.small[1]]], symbolSize:2*L.small[2],
    itemStyle:{color:'rgba(140,215,140,0.45)', borderColor:'rgba(50,135,50,0.6)', borderWidth:2.5, opacity:1}});
  series.push({type:'scatter', xAxisIndex:vGi, yAxisIndex:vGi, silent:true, z:3, symbolSize:0,
    data:L.lab.map((p,i) => ({value:[p[0],p[1]], name:String(counts[i])})),
    label:{show:true, position:'inside', formatter:p=>p.name, fontSize:30, fontWeight:'bold', fontFamily:FONT, color:'#000'}});
});

// ---- Build ----
const chart = echarts.init(document.getElementById('c'), null, {renderer:'canvas'});
chart.setOption({animation:false, backgroundColor:'#fff', grid:grids, xAxis:xAxes, yAxis:yAxes, series});

// ================= ANNOTATIONS (graphic) =================
function T(text, x, y, o) {
  o = o || {};
  return {type:'text', x, y, rotation:o.rot||0, z:100, silent:true,
    style:{text, fill:o.color||'#000', font:(o.italic?'italic ':'')+(o.bold?'bold ':'')+(o.size||29)+'px '+(o.family||FONT),
      textAlign:o.align||'center', textVerticalAlign:'middle'}};
}
function Ln(x1,y1,x2,y2,w,dash) {
  return {type:'line', z:100, silent:true, shape:{x1,y1,x2,y2}, style:{stroke:'#000', lineWidth:w||3, lineDash:dash||null}};
}
const R90 = Math.PI/2;
const G = [];
// Panel A
G.push(T('A',107,32,{bold:true,size:50}));
G.push(T('-log10(P)',85,141,{rot:R90,size:33}));
G.push(Ln(59,50,59,1197,4.5));
G.push({type:'polygon', z:100, silent:true, shape:{points:[[42,56],[59,9],[76,56]]}, style:{fill:'#000'}});
G.push(Ln(57,1197,1190,1197,4.5));
G.push({type:'polygon', z:100, silent:true, shape:{points:[[1185,1180],[1234,1197],[1185,1214]]}, style:{fill:'#000'}});
G.push(T('miRNA seq Lung ECs',686,82));
G.push(Ln(174,106,1228,106,3));
G.push(T('Prog-Tg vs WT ECs',425,142));
G.push(T('LA-Tg vs WT ECs',969,141));
G.push(T('miRNA seq plasma samples >25 week old mice',690,656));
G.push(Ln(174,681,1224,681,3));
G.push(T('Prog-Tg vs WT plasma',411,722));
G.push(T('LA-Tg vs WT plasma',979,722));
G.push(T('log2 FC',1120,1172));
// Panel B
G.push(T('B',1267,32,{bold:true,size:50}));
G.push(T('Shared DE miRs in lung ECs',1594,31));
G.push(T(vennBSets[0],1393,97));
G.push(T(vennBSets[1],1655,98));
// Panel C
G.push(T('C',28,1264,{bold:true,size:50}));
G.push(T('Pathway Ranking Summary',732,1274,{bold:true,size:27,family:NARROW}));
G.push(T('Score',818,2670,{bold:true,size:23,family:NARROW}));
// callout boxes
const box1 = {x:1046, y:1331, w:180, h:244, ty:[1352,1379,1402,1429,1456,1479,1506,1532,1555]};
const box2 = {x:868, y:2166, w:174, h:166, ty:[2185,2213,2236,2264,2288,2315]};
G.push({type:'rect', z:99, silent:true, shape:{x:box1.x,y:box1.y,width:box1.w,height:box1.h}, style:{fill:'#fff', stroke:'#000', lineWidth:4}});
cancerMirsRed.concat(cancerMirsOrange).forEach((m,i) => G.push(T(m, box1.x+5, box1.ty[i], {size:20, align:'left', color: i < cancerMirsRed.length ? RED : ORANGE})));
G.push({type:'rect', z:99, silent:true, shape:{x:box2.x,y:box2.y,width:box2.w,height:box2.h}, style:{fill:'#fff', stroke:'#000', lineWidth:4}});
p53Mirs.forEach((m,i) => G.push(T(m, box2.x+5, box2.ty[i], {size:20, align:'left', color:RED})));
// connectors from bar ends
const c0 = chart.convertToPixel({gridIndex:barGi},[0,0]), c1 = chart.convertToPixel({gridIndex:barGi},[0,1]);
const band = c1[1]-c0[1], half = band*0.77/2;
const iC = pathways.indexOf(highlightCancer), iP = pathways.indexOf(highlightP53);
const pC = chart.convertToPixel({gridIndex:barGi},[pathwayScores[iC], iC]);
const pP = chart.convertToPixel({gridIndex:barGi},[pathwayScores[iP], iP]);
G.push(Ln(pC[0], box1.y+2, box1.x, box1.y+2, 4.5, [4,4]));
G.push(Ln(pC[0]-6, pC[1]+half, box1.x, box1.y+box1.h-6, 3.5, [10,7]));
G.push(Ln(pP[0], pP[1]-half, box2.x, box2.y, 3.5, [10,7]));
G.push(Ln(pP[0], pP[1]+half, box2.x, box2.y+box2.h, 3.5, [10,7]));
// Panel D
G.push(T('D',1241,582,{bold:true,size:50}));
G.push(T('Lung ECs',1609,582,{size:31}));
G.push(Ln(1317,602,1944,602,3.5));
G.push(T(sig[0],1494,624,{size:24}));
G.push(T(sig[1],1870,617,{size:24}));
G.push(T('miR34a/snoU6',1267,794,{rot:R90,italic:true,size:30}));
G.push(T('miR31/snoU6',1640,790,{rot:R90,italic:true,size:30}));
// Panel E
G.push(T('E',1253,993,{bold:true,size:50}));
G.push(T('Lung tissues',1570,1006,{size:31}));
G.push(Ln(1314,1032,1947,1032,3));
G.push(T(sig[2],1444,1054,{size:26}));
G.push(T(sig[3],1817,1054,{size:26}));
G.push(T('miR34a/snoU6',1275,1225,{rot:R90,italic:true,size:30}));
G.push(T('miR31/snoU6',1640,1222,{rot:R90,italic:true,size:30}));
G.push(T('Heart tissues',1590,1388,{size:31}));
G.push(Ln(1314,1415,1947,1415,3));
G.push(T(sig[4],1444,1437,{size:26}));
G.push(T(sig[5],1816,1432,{size:30}));
G.push(T('miR34a/snoU6',1275,1605,{rot:R90,italic:true,size:30}));
G.push(T('miR31/snoU6',1628,1610,{rot:R90,italic:true,size:30}));
// Panel F
G.push(T('F',1230,1836,{bold:true,size:50}));
G.push(T('non-EC lung tissue',1574,1822,{size:31}));
G.push(Ln(1324,1843,1954,1843,3.5));
G.push(T(sig[6],1452,1884,{size:36}));
G.push(T(sig[7],1823,1874,{size:36}));
G.push(T('miR34a/snoU6',1272,2050,{rot:R90,italic:true,size:30}));
G.push(T('miR31/snoU6',1643,2056,{rot:R90,italic:true,size:30}));
// Panel G
G.push(T('G',1241,2257,{bold:true,size:50}));
const gL = vennGSets[0].split('\n'), gR = vennGSets[1].split('\n');
G.push(T(gL[0],1410,2263,{size:28}));
G.push(T(gL[1],1412,2302,{size:28}));
G.push(T(gR[0],1694,2257,{size:28}));
G.push(T(gR[1],1697,2298,{size:28}));
G.push(T(vennGPvalue,1410,2815,{size:29}));

chart.setOption({graphic:{elements:G}});
</script></body></html>
